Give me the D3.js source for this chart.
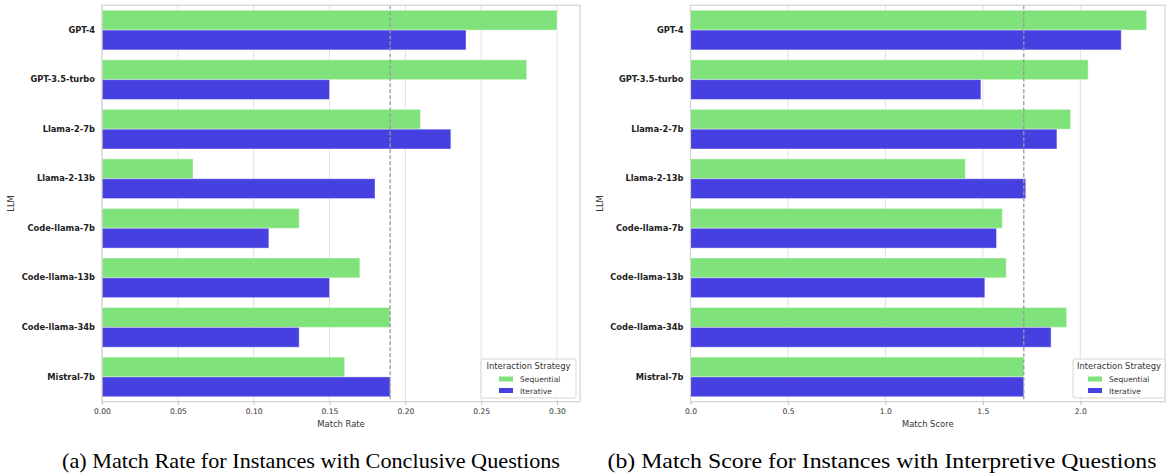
<!DOCTYPE html>
<html>
<head>
<meta charset="utf-8">
<script src="https://cdn.jsdelivr.net/npm/d3@7/dist/d3.min.js"></script>
<style>
  html, body { margin: 0; padding: 0; background: #fff; }
  svg { display: block; }
</style>
</head>
<body>
<svg id="chart" width="1166" height="473"></svg>
<script>
// ---- Data ----
const categories = ["GPT-4", "GPT-3.5-turbo", "Llama-2-7b", "Llama-2-13b", "Code-llama-7b", "Code-llama-13b", "Code-llama-34b", "Mistral-7b"];
const seriesNames = ["Sequential", "Iterative"];

const matchRateSequential = [0.30, 0.28, 0.21, 0.06, 0.13, 0.17, 0.19, 0.16];
const matchRateIterative  = [0.24, 0.15, 0.23, 0.18, 0.11, 0.15, 0.13, 0.19];
const matchRateRefLine = 0.19;
const matchRateTicks = [0.00, 0.05, 0.10, 0.15, 0.20, 0.25, 0.30];

const matchScoreSequential = [2.34, 2.04, 1.95, 1.41, 1.60, 1.62, 1.93, 1.71];
const matchScoreIterative  = [2.21, 1.49, 1.88, 1.72, 1.57, 1.51, 1.85, 1.71];
const matchScoreRefLine = 1.71;
const matchScoreTicks = [0.0, 0.5, 1.0, 1.5, 2.0];

const colors = { "Sequential": "#80e27a", "Iterative": "#4640e0" };

const svg = d3.select("#chart");

function drawPanel(opt) {
  const g = svg.append("g");
  const x = d3.scaleLinear().domain([0, opt.xMax]).range([opt.left, opt.right]);
  const y = d3.scaleBand().domain(categories).range([opt.top, opt.bottom])
    .paddingInner(0.2).paddingOuter(0.1);
  const ys = d3.scaleBand().domain(seriesNames).range([0, y.bandwidth()]);

  // grid
  g.append("g").selectAll("line").data(opt.ticks).join("line")
    .attr("x1", d => x(d)).attr("x2", d => x(d))
    .attr("y1", opt.top).attr("y2", opt.bottom)
    .attr("stroke", "#e0e0e0").attr("stroke-width", 1);

  // bars
  const rows = categories.map((c, i) => ({ cat: c, vals: [
    { s: "Sequential", v: opt.seq[i] }, { s: "Iterative", v: opt.iter[i] } ] }));
  const grp = g.append("g").selectAll("g").data(rows).join("g")
    .attr("transform", d => `translate(0,${y(d.cat)})`);
  grp.selectAll("rect").data(d => d.vals).join("rect")
    .attr("x", x(0))
    .attr("y", d => ys(d.s))
    .attr("width", d => x(d.v) - x(0))
    .attr("height", ys.bandwidth())
    .attr("fill", d => colors[d.s])
    .attr("stroke", "#ffffff").attr("stroke-opacity", 0.4).attr("stroke-width", 1);

  // reference line
  g.append("line")
    .attr("x1", x(opt.ref)).attr("x2", x(opt.ref))
    .attr("y1", opt.top).attr("y2", opt.bottom)
    .attr("stroke", "#9a9a9a").attr("stroke-width", 1.3)
    .attr("stroke-dasharray", "4,2");

  // frame
  g.append("rect")
    .attr("x", opt.left).attr("y", opt.top)
    .attr("width", opt.right - opt.left).attr("height", opt.bottom - opt.top)
    .attr("fill", "none").attr("stroke", "#d2d2d2").attr("stroke-width", 1.2);

  // x axis
  const xAxis = d3.axisBottom(x).tickValues(opt.ticks).tickFormat(opt.fmt)
    .tickSize(3).tickPadding(4);
  const ax = g.append("g").attr("transform", `translate(0,${opt.bottom})`).call(xAxis);
  ax.select(".domain").remove();
  ax.selectAll(".tick line").attr("stroke", "#bbbbbb");
  ax.selectAll(".tick text").attr("font-family", "DejaVu Sans").attr("font-size", 7.6)
    .attr("fill", "#333");

  // y axis
  const yAxis = d3.axisLeft(y).tickSize(0).tickPadding(7);
  const ay = g.append("g").attr("transform", `translate(${opt.left},0)`).call(yAxis);
  ay.select(".domain").remove();
  ay.selectAll(".tick text").attr("font-family", "DejaVu Sans").attr("font-size", 8.3)
    .attr("font-weight", "bold").attr("fill", "#222");

  // axis labels
  g.append("text").attr("x", (opt.left + opt.right) / 2).attr("y", 427)
    .attr("text-anchor", "middle").attr("font-family", "DejaVu Sans")
    .attr("font-size", 8.4).attr("fill", "#333").text(opt.xLabel);
  g.append("text")
    .attr("transform", `translate(${opt.yLabelX},${(opt.top + opt.bottom) / 2}) rotate(-90)`)
    .attr("text-anchor", "middle").attr("font-family", "DejaVu Sans")
    .attr("font-size", 8.4).attr("fill", "#333").text("LLM");

  // legend
  const lg = g.append("g").attr("transform", `translate(${opt.legX},${opt.legY})`);
  lg.append("rect").attr("x", 0).attr("y", 0).attr("width", opt.legW).attr("height", 39)
    .attr("rx", 2).attr("fill", "#fff").attr("fill-opacity", 0.85)
    .attr("stroke", "#d6d6d6").attr("stroke-width", 1);
  lg.append("text").attr("x", opt.legW / 2).attr("y", 10)
    .attr("text-anchor", "middle").attr("font-family", "DejaVu Sans")
    .attr("font-size", 8.4).attr("fill", "#333").text("Interaction Strategy");
  seriesNames.forEach((s, i) => {
    lg.append("rect").attr("x", opt.swX).attr("y", 17.5 + i * 11.5)
      .attr("width", 14).attr("height", 5).attr("fill", colors[s]);
    lg.append("text").attr("x", opt.swX + 21).attr("y", 23 + i * 11.5)
      .attr("font-family", "DejaVu Sans").attr("font-size", 7.6)
      .attr("fill", "#333").text(s);
  });

  // caption
  svg.append("text").attr("x", opt.capX - opt.capLen / 2).attr("y", 468)
    .attr("font-family", "Liberation Serif")
    .attr("font-size", 22)
    .attr("textLength", opt.capLen).attr("lengthAdjust", "spacingAndGlyphs")
    .attr("fill", "#000").text(opt.caption);
}

drawPanel({
  left: 102, right: 580, top: 5.3, bottom: 401.7,
  xMax: (580 - 102) / ((557 - 102) / 0.30),
  seq: matchRateSequential, iter: matchRateIterative, ref: matchRateRefLine,
  ticks: matchRateTicks, fmt: d3.format(".2f"),
  xLabel: "Match Rate", yLabelX: 14,
  legX: 481, legY: 359, legW: 95, swX: 18,
  capX: 311, capLen: 498,
  caption: "(a) Match Rate for Instances with Conclusive Questions"
});

drawPanel({
  left: 690.5, right: 1165, top: 5.3, bottom: 401.7,
  xMax: (1165 - 690.5) / ((1080.3 - 690.5) / 2.0),
  seq: matchScoreSequential, iter: matchScoreIterative, ref: matchScoreRefLine,
  ticks: matchScoreTicks, fmt: d3.format(".1f"),
  xLabel: "Match Score", yLabelX: 603,
  legX: 1073, legY: 359, legW: 92, swX: 15,
  capX: 882, capLen: 549,
  caption: "(b) Match Score for Instances with Interpretive Questions"
});
</script>
</body>
</html>
